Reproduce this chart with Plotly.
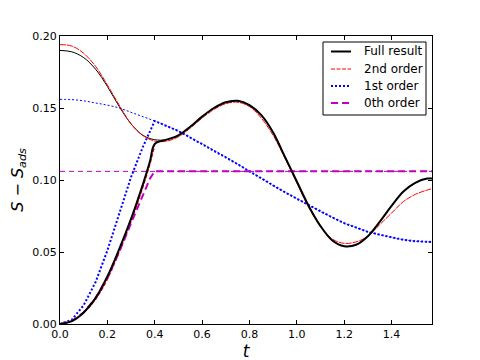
import plotly.graph_objects as go
import math

# ---- data ----
t_full = [0.0, 0.05, 0.1, 0.15, 0.2, 0.25, 0.3, 0.35, 0.4, 0.45, 0.5, 0.55, 0.6, 0.65,
          0.7, 0.75, 0.8, 0.85, 0.9, 0.95, 1.0, 1.05, 1.1, 1.15, 1.2, 1.25, 1.3, 1.35,
          1.4, 1.45, 1.5, 1.55, 1.5708]
full_curve = [0.190, 0.189, 0.185, 0.177, 0.165, 0.151, 0.139, 0.131, 0.128, 0.128, 0.131,
              0.137, 0.144, 0.150, 0.154, 0.155, 0.152, 0.145, 0.133, 0.116, 0.099, 0.082,
              0.068, 0.058, 0.054, 0.055, 0.061, 0.071, 0.082, 0.092, 0.098, 0.101, 0.101]
second_curve = [0.194, 0.193, 0.188, 0.179, 0.166, 0.152, 0.139, 0.131, 0.127, 0.127, 0.130,
                0.136, 0.143, 0.149, 0.153, 0.154, 0.151, 0.143, 0.131, 0.115, 0.098, 0.081,
                0.068, 0.059, 0.056, 0.057, 0.061, 0.069, 0.077, 0.085, 0.090, 0.093, 0.094]
first_curve = [0.156, 0.1558, 0.155, 0.1535, 0.152, 0.150, 0.147, 0.144, 0.141, 0.1375, 0.134,
               0.1295, 0.125, 0.1205, 0.116, 0.111, 0.106, 0.101, 0.096, 0.0915, 0.087,
               0.0825, 0.078, 0.074, 0.070, 0.067, 0.064, 0.062, 0.060, 0.0585, 0.0575,
               0.057, 0.057]
zeroth_level = 0.106

t_rise = [0.0, 0.05, 0.1, 0.15, 0.2, 0.25, 0.3, 0.35, 0.38, 0.4]
full_rise = [0.0, 0.002, 0.008, 0.018, 0.033, 0.052, 0.073, 0.097, 0.113, 0.125]
second_rise = [0.0, 0.002, 0.008, 0.017, 0.031, 0.050, 0.071, 0.095, 0.111, 0.124]
first_rise = [0.0, 0.003, 0.013, 0.029, 0.051, 0.077, 0.102, 0.123, 0.134, 0.141]
zeroth_rise = [0.0, 0.002, 0.008, 0.018, 0.032, 0.050, 0.070, 0.090, 0.101, 0.106]

xticks = [0.0, 0.2, 0.4, 0.6, 0.8, 1.0, 1.2, 1.4]
yticks = [0.0, 0.05, 0.10, 0.15, 0.20]

legend_names = ["Full result", "2nd order", "1st order", "0th order"]

BLACK = "#000000"
RED = "#ff0000"
BLUE = "#0000ff"
MAG = "#bf00bf"

STYLE = {
    "Full result": dict(color=BLACK, width=2),
    "2nd order": dict(color=RED, width=1.2, dash="4px,1.5px"),
    "1st order": dict(color=BLUE, width=2, dash="2px,2px"),
    "0th order": dict(color=MAG, width=2, dash="7px,4px"),
}


def join(tr, yr, tf, yf, t0):
    xs = list(tr)
    ys = list(yr)
    for a, b in zip(tf, yf):
        if a > t0:
            xs.append(a)
            ys.append(b)
    return xs, ys


fig = go.Figure()

# thin curves over the whole range
fig.add_trace(go.Scatter(x=t_full, y=[zeroth_level] * len(t_full), mode="lines",
                         line=dict(color=MAG, width=1, dash="5px,4px"), showlegend=False))
fig.add_trace(go.Scatter(x=t_full, y=first_curve, mode="lines", line_shape="spline",
                         line=dict(color=BLUE, width=1, dash="2px,2px"), showlegend=False))
fig.add_trace(go.Scatter(x=t_full, y=full_curve, mode="lines", line_shape="spline",
                         line=dict(color=BLACK, width=1), showlegend=False))

# 2nd order
fig.add_trace(go.Scatter(x=t_rise, y=second_rise, mode="lines", line_shape="spline",
                         line=dict(color=RED, width=1.2, dash="4px,1.5px"), showlegend=False))
fig.add_trace(go.Scatter(x=t_full, y=second_curve, mode="lines", line_shape="spline",
                         showlegend=False, line=dict(color=RED, width=1, dash="6px,1px")))
# 1st order
xs, ys = join(t_rise, first_rise, t_full, first_curve, 0.4)
fig.add_trace(go.Scatter(x=xs, y=ys, mode="lines", showlegend=False, line=STYLE["1st order"]))
# 0th order
xs, ys = join(t_rise, zeroth_rise, t_full, [zeroth_level] * len(t_full), 0.4)
fig.add_trace(go.Scatter(x=xs, y=ys, mode="lines", showlegend=False, line=STYLE["0th order"]))
# full result
xs, ys = join(t_rise, full_rise, t_full, full_curve, 0.41)
fig.add_trace(go.Scatter(x=xs, y=ys, mode="lines", line_shape="spline",
                         showlegend=False, line=STYLE["Full result"]))

# ---- matplotlib-like legend box (paper coords, from page pixels) ----
PW, PH = 372.0, 288.0  # plot area size in px (page x 60..432, y 36..324)
def px(xp):
    return (xp - 60) / PW
def py(yp):
    return (324 - yp) / PH

shapes = [dict(type="rect", xref="paper", yref="paper",
               x0=px(323), x1=px(426), y0=py(115), y1=py(42),
               line=dict(color=BLACK, width=1), fillcolor="white", layer="above")]
annotations = []
row_y = [51.5, 69, 86, 103]
for name, ry in zip(legend_names, row_y):
    st = STYLE[name]
    shapes.append(dict(type="line", xref="paper", yref="paper",
                       x0=px(331), x1=px(351), y0=py(ry), y1=py(ry),
                       line=dict(color=st["color"], width=st["width"],
                                 dash=st.get("dash", "solid")), layer="above"))
    annotations.append(dict(xref="paper", yref="paper", x=px(362), y=py(ry),
                            xanchor="left", yanchor="middle", showarrow=False,
                            text=name, font=dict(family="DejaVu Sans", size=12, color=BLACK)))

axis_common = dict(showline=True, linecolor=BLACK, linewidth=1, mirror="ticks",
                   ticks="inside", ticklen=4, tickcolor=BLACK, showgrid=False,
                   zeroline=False, automargin=False,
                   tickfont=dict(family="DejaVu Sans", size=11, color=BLACK))

fig.update_xaxes(range=[0, math.pi / 2], tickvals=xticks,
                 ticktext=[f"{v:.1f}" for v in xticks],
                 title=dict(text="<i>t</i>", font=dict(family="DejaVu Sans", size=17, color=BLACK),
                            standoff=0),
                 **axis_common)
fig.update_yaxes(range=[0, 0.20], tickvals=yticks,
                 ticktext=[f"{v:.2f}" for v in yticks],
                 title=dict(text="<i>S</i> − <i>S</i><sub><i>ads</i></sub>",
                            font=dict(family="DejaVu Sans", size=16, color=BLACK),
                            standoff=8),
                 **axis_common)

# the page body adds an 8px offset; margins compensate so the plot area
# sits at page x 60..432, y 36..324 like the reference
fig.update_layout(
    width=480, height=360, autosize=False,
    margin=dict(l=52, r=56, t=28, b=44),
    paper_bgcolor="white", plot_bgcolor="white",
    showlegend=False,
    shapes=shapes, annotations=annotations,
)

fig.write_html("out.html")
